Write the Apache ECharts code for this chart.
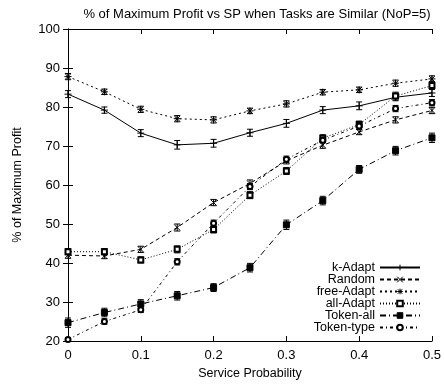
<!DOCTYPE html>
<html>
<head>
<meta charset="utf-8">
<script src="https://cdn.jsdelivr.net/npm/echarts@6/dist/echarts.min.js"></script>
<style>
  html, body { margin: 0; padding: 0; background: #fff; }
  #main { width: 444px; height: 385px; }
</style>
</head>
<body>
<div id="main"></div>
<script>
var xs = [0, 0.05, 0.1, 0.15, 0.2, 0.25, 0.3, 0.35, 0.4, 0.45, 0.5];
var xTicks = ['0', '0.1', '0.2', '0.3', '0.4', '0.5'];
var yTicks = ['20', '30', '40', '50', '60', '70', '80', '90', '100'];

var names = ['k-Adapt', 'Random', 'free-Adapt', 'all-Adapt', 'Token-all', 'Token-type'];

var kAdapt    = [83.3, 79.2, 73.3, 70.3, 70.7, 73.4, 75.8, 79.2, 80.3, 82.5, 83.6];
var random    = [42.0, 41.8, 43.5, 49.1, 55.5, 60.4, 66.2, 70.2, 73.6, 76.7, 79.1];
var freeAdapt = [87.8, 83.9, 79.4, 77.0, 76.7, 79.0, 80.8, 83.8, 84.4, 86.1, 87.2];
var allAdapt  = [42.9, 42.9, 40.8, 43.5, 48.6, 57.4, 63.6, 72.0, 75.5, 82.8, 85.5];
var tokenAll  = [24.7, 27.3, 29.5, 31.6, 33.7, 38.8, 49.8, 56.0, 64.0, 68.8, 72.1];
var tokenType = [20.4, 25.0, 28.0, 40.3, 50.2, 59.6, 66.6, 71.5, 75.1, 79.6, 81.1];

// error bar half-heights
var kAdaptErr    = [0.9, 0.8, 0.9, 1.1, 1.0, 0.9, 1.0, 0.9, 1.0, 0.9, 0.9];
var randomErr    = [0.8, 0.7, 0.8, 0.9, 0.8, 0.9, 0.8, 0.8, 0.7, 0.8, 0.8];
var freeAdaptErr = [0.8, 0.7, 0.8, 0.8, 0.8, 0.7, 0.8, 0.7, 0.7, 0.8, 0.8];
var allAdaptErr  = [0.8, 0.8, 0.8, 0.9, 0.9, 0.9, 0.9, 0.9, 0.9, 1.0, 1.0];
var tokenAllErr  = [1.2, 1.1, 1.1, 1.1, 1.0, 1.1, 1.2, 1.1, 1.0, 1.1, 1.2];
var tokenTypeErr = [0.5, 0.7, 0.7, 0.8, 0.8, 0.8, 0.8, 0.7, 0.8, 0.8, 0.8];

var values = [kAdapt, random, freeAdapt, allAdapt, tokenAll, tokenType];
var errors = [kAdaptErr, randomErr, freeAdaptErr, allAdaptErr, tokenAllErr, tokenTypeErr];
var symbols = [
  'path://M5 0V10M0 5H10',
  'path://M0 0L10 10M0 10L10 0',
  'path://M5 0V10M0 5H10M1 1L9 9M1 9L9 1',
  'emptyRect',
  'rect',
  'emptyCircle'
];
var sizes = [7, 6, 7, 5, 6, 5];
var dashes = ['solid', [4, 3], [2, 3], [1, 2], [6, 3, 1, 3], [3, 3, 1, 3]];

var FONT = 'Liberation Sans, Arial, sans-serif';

var myChart = echarts.init(document.getElementById('main'));

var series = [];
names.forEach(function (n, i) {
  var pts = xs.map(function (x, j) { return [x, values[i][j]]; });
  series.push({
    name: n,
    type: 'line',
    data: pts,
    symbol: symbols[i],
    symbolSize: sizes[i],
    showAllSymbol: true,
    animation: false,
    lineStyle: { color: '#000', width: 1, type: dashes[i] },
    itemStyle: { color: '#000', borderColor: '#000', borderWidth: 1 },
    z: 3
  });
  series.push({
    name: n + ' err',
    type: 'custom',
    data: xs.map(function (x, j) { return [x, values[i][j], errors[i][j]]; }),
    animation: false,
    z: 2,
    renderItem: function (params, api) {
      var x = api.value(0), y = api.value(1), e = api.value(2);
      var t = api.coord([x, y + e]);
      var b = api.coord([x, y - e]);
      var st = { stroke: '#000', lineWidth: 1 };
      return {
        type: 'group',
        children: [
          { type: 'line', shape: { x1: t[0], y1: t[1], x2: b[0], y2: b[1] }, style: st },
          { type: 'line', shape: { x1: t[0] - 3, y1: t[1], x2: t[0] + 3, y2: t[1] }, style: st },
          { type: 'line', shape: { x1: b[0] - 3, y1: b[1], x2: b[0] + 3, y2: b[1] }, style: st }
        ]
      };
    }
  });
});

var option = {
  backgroundColor: '#fff',
  title: {
    text: '% of Maximum Profit vs SP when Tasks are Similar (NoP=5)',
    left: 252,
    textAlign: 'center',
    top: 3,
    textStyle: { fontFamily: FONT, fontSize: 13, fontWeight: 'normal', color: '#000' }
  },
  legend: {
    data: names,
    orient: 'vertical',
    right: 18,
    top: 256,
    align: 'right',
    itemWidth: 40,
    itemHeight: 7,
    itemGap: -1,
    itemStyle: { borderWidth: 1 },
    textStyle: { fontFamily: FONT, fontSize: 12.5, lineHeight: 11, color: '#000' }
  },
  grid: { left: 68, right: 9, top: 29, bottom: 44 },
  xAxis: [
    {
      type: 'value', min: 0, max: 0.5, interval: 0.1,
      name: 'Service Probability', nameLocation: 'middle', nameGap: 26,
      nameTextStyle: { fontFamily: FONT, fontSize: 12.5, color: '#000' },
      axisLine: { lineStyle: { color: '#000', width: 1 } },
      axisTick: { inside: true, length: 5, lineStyle: { color: '#000' } },
      axisLabel: {
        fontFamily: FONT, fontSize: 13, color: '#000', margin: 8,
        formatter: function (v) { return xTicks[Math.round(v * 10)]; }
      },
      splitLine: { show: false }
    },
    {
      type: 'value', min: 0, max: 0.5, interval: 0.1, position: 'top',
      axisLine: { lineStyle: { color: '#000', width: 1 } },
      axisTick: { inside: true, length: 5, lineStyle: { color: '#000' } },
      axisLabel: { show: false },
      splitLine: { show: false }
    }
  ],
  yAxis: [
    {
      type: 'value', min: 20, max: 100, interval: 10,
      name: '% of Maximum Profit', nameLocation: 'middle', nameGap: 44,
      nameTextStyle: { fontFamily: FONT, fontSize: 12.5, color: '#000' },
      axisLine: { show: true, lineStyle: { color: '#000', width: 1 } },
      axisTick: { show: true, inside: true, length: 5, lineStyle: { color: '#000' } },
      axisLabel: {
        fontFamily: FONT, fontSize: 13, color: '#000', margin: 8,
        formatter: function (v) { return yTicks[Math.round((v - 20) / 10)]; }
      },
      splitLine: { show: false }
    },
    {
      type: 'value', min: 20, max: 100, interval: 10, position: 'right',
      axisLine: { show: true, lineStyle: { color: '#000', width: 1 } },
      axisTick: { show: true, inside: true, length: 5, lineStyle: { color: '#000' } },
      axisLabel: { show: false },
      splitLine: { show: false }
    }
  ],
  series: series
};

myChart.setOption(option);
</script>
</body>
</html>
